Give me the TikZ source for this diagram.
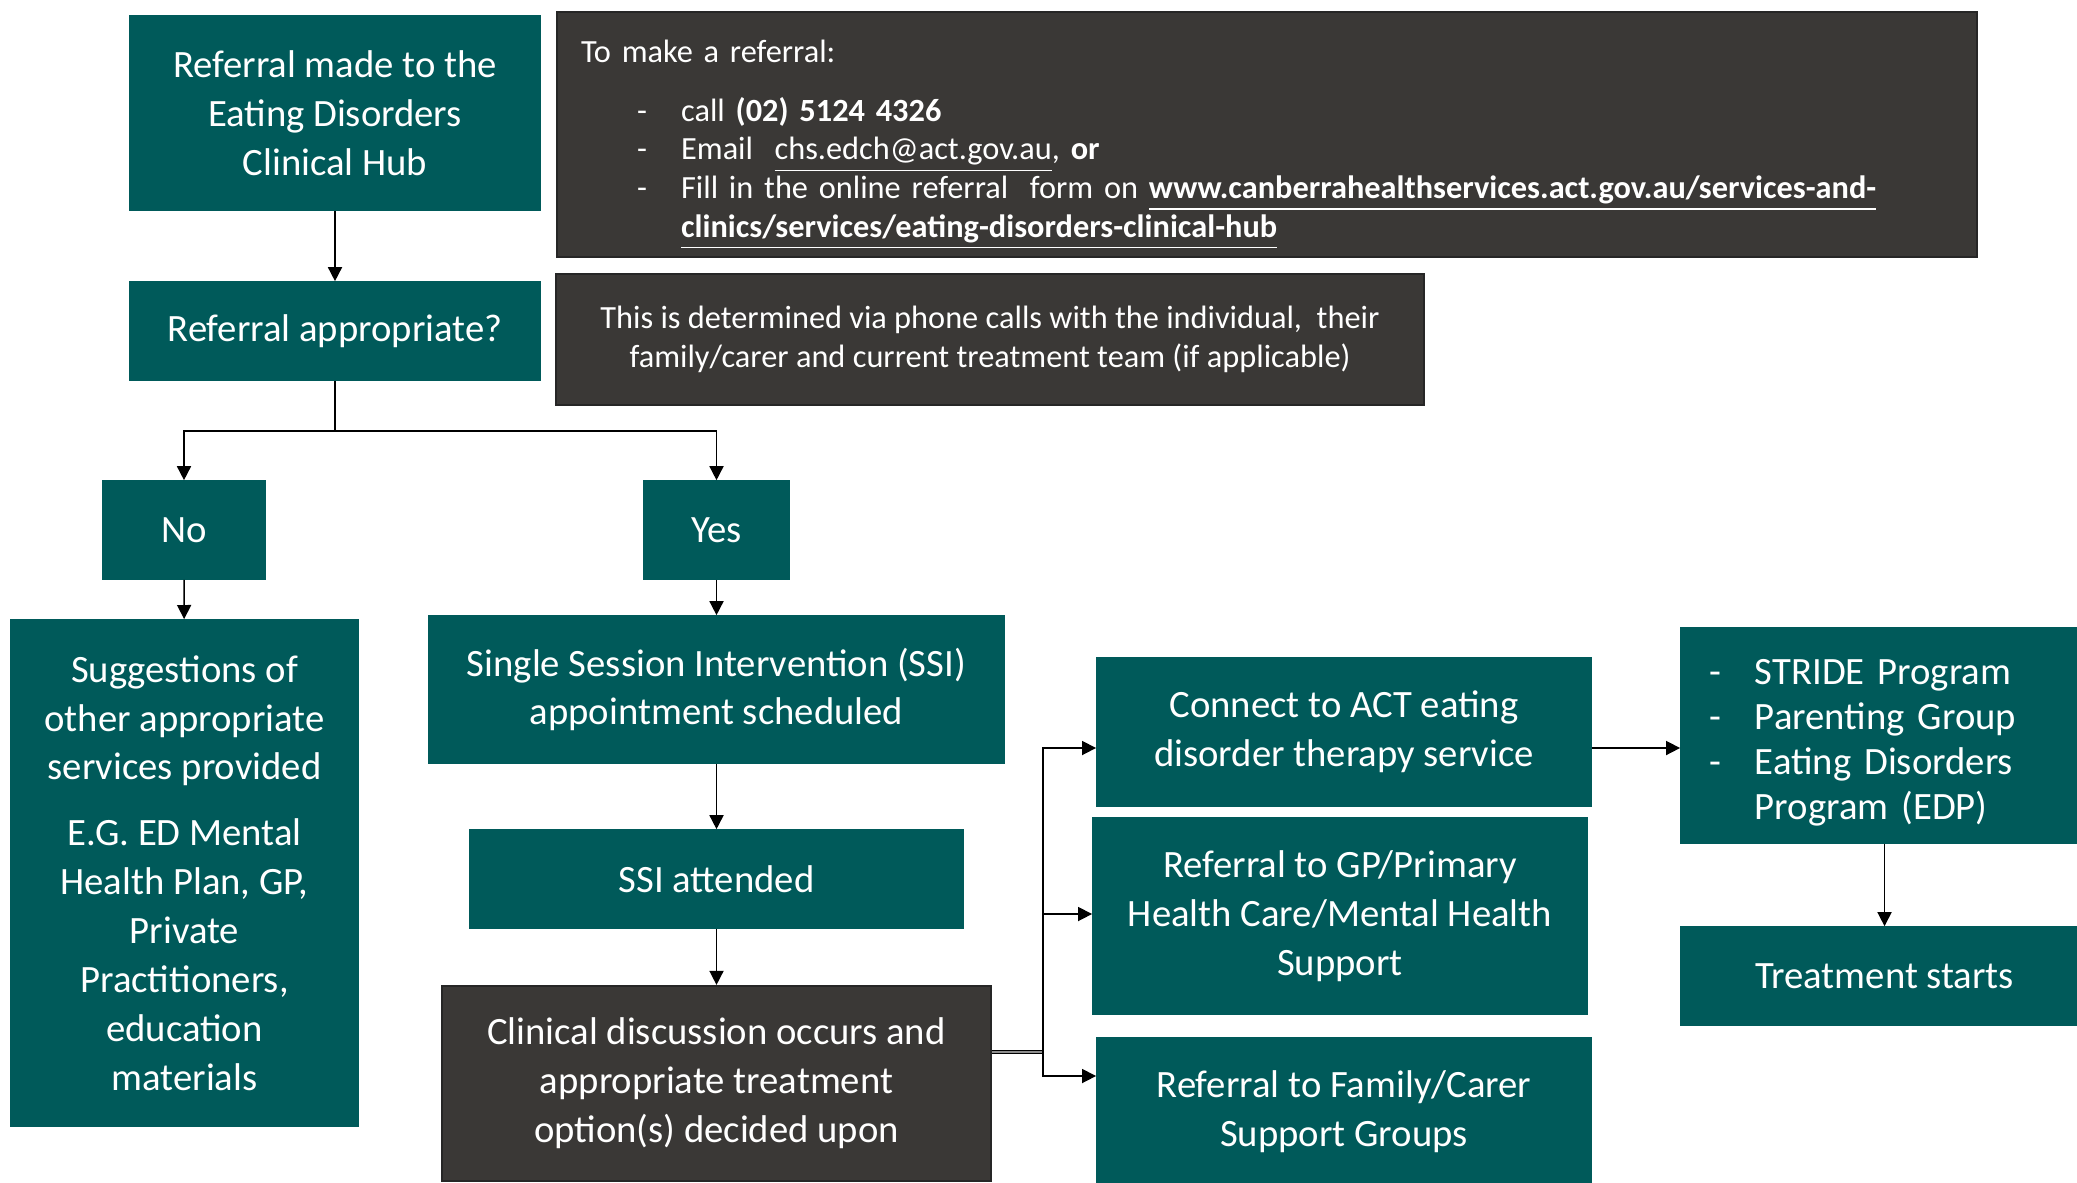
\documentclass[tikz,border=0pt]{standalone}
\usepackage{fontspec}
\setmainfont{Carlito}
\usepackage{xcolor}
\usetikzlibrary{arrows.meta}
\definecolor{hubteal}{HTML}{005A5A}
\definecolor{hubgrey}{HTML}{3A3836}

\begin{document}
\begin{tikzpicture}[x=0.01cm,y=-0.01cm,line width=0.45pt,
    >={Triangle[length=4pt,width=4pt]},
    tealbox/.style={fill=hubteal,draw=hubteal,text=white,align=center,inner sep=0pt,
        font=\fontsize{11pt}{13.9pt}\selectfont},
    greybox/.style={fill=hubgrey,draw=black!85,line width=0.6pt,text=white,inner sep=0pt},
    small/.style={font=\fontsize{9.2pt}{11pt}\selectfont}]
    \useasboundingbox (0,0) rectangle (2077,1182);
    \clip (0,0) rectangle (2077,1182);
    % left column
    \node[tealbox,minimum width=4.1cm,minimum height=1.95cm] (1) at (335,113) {Referral made to the\\Eating Disorders\\Clinical Hub};
    \node[greybox,small,anchor=north west,minimum width=14.19cm,minimum height=2.45cm,
        text width=13.71cm,inner xsep=0.24cm,align=left] (2) at (556,11)
        {\rule{0pt}{0.43cm}To make a referral:\\[0.2cm]
        \hspace*{0.56cm}\makebox[0.44cm][l]{-}call \textbf{(02) 5124 4326}\\
        \hspace*{0.56cm}\makebox[0.44cm][l]{-}Email\ \ \underline{chs.edch@act.gov.au}, \textbf{or}\\
        \hspace*{0.56cm}\makebox[0.44cm][l]{-}Fill in the online referral\ \ form on \underline{\textbf{www.canberrahealthservices.act.gov.au/services-and-}}\\
        \hspace*{1cm}\underline{\textbf{clinics/services/eating-disorders-clinical-hub}}};
    \node[tealbox,minimum width=4.1cm,minimum height=0.98cm] (3) at (335,331) {Referral appropriate?};
    \node[greybox,small,align=center,minimum width=8.68cm,minimum height=1.31cm] (4) at (990,339.5)
        {This is determined via phone calls with the individual,\ \ their\\family/carer and current treatment team (if applicable)};
    \node[tealbox,minimum width=1.62cm,minimum height=0.98cm] (5) at (184,530) {No};
    \node[tealbox,minimum width=1.45cm,minimum height=0.98cm] (6) at (716.5,530) {Yes};
    \node[tealbox,minimum width=3.47cm,minimum height=5.06cm] (7) at (184.5,873)
        {Suggestions of\\other appropriate\\services provided\\[0.17cm]E.G. ED Mental\\Health Plan, GP,\\Private\\Practitioners,\\education\\materials};
    % middle column
    \node[tealbox,minimum width=5.75cm,minimum height=1.47cm] (8) at (716.5,689.5) {Single Session Intervention (SSI)\\appointment scheduled};
    \node[tealbox,minimum width=4.93cm,minimum height=0.98cm] (9) at (716.5,879) {SSI attended};
    \node[greybox,align=center,font=\fontsize{11pt}{13.9pt}\selectfont,minimum width=5.49cm,minimum height=1.95cm] (10) at (716.5,1083.5)
        {Clinical discussion occurs and\\appropriate treatment\\option(s) decided upon};
    % options
    \node[tealbox,minimum width=4.94cm,minimum height=1.48cm] (11) at (1344,732) {Connect to ACT eating\\disorder therapy service};
    \node[tealbox,minimum width=4.94cm,minimum height=1.96cm] (12) at (1340,916) {Referral to GP/Primary\\Health Care/Mental Health\\Support};
    \node[tealbox,minimum width=4.94cm,minimum height=1.47cm] (13) at (1344,1111.5) {Referral to Family/Carer\\Support Groups};
    \node[tealbox,minimum width=4.07cm,minimum height=2.15cm,text width=3.49cm,inner xsep=0.29cm,align=left,
        font=\fontsize{11pt}{12.8pt}\selectfont] (14) at (1884.5,735.5)
        {\rule{0pt}{0.4cm}\makebox[0.45cm][l]{-}STRIDE Program\\\makebox[0.45cm][l]{-}Parenting Group\\\makebox[0.45cm][l]{-}Eating Disorders\\\hspace*{0.45cm}Program (EDP)};
    \node[tealbox,minimum width=4.07cm,minimum height=0.98cm] (15) at (1884.5,976) {Treatment starts};
    % connectors
    \coordinate (split) at (335,431);
    \coordinate (trunk) at (1043,1052);
    \draw[->] (1) -- (3);
    \draw (3) -- (split);
    \draw[->] (split) -| (5);
    \draw[->] (split) -| (6);
    \draw[->] (5) -- (7);
    \draw[->] (6) -- (8);
    \draw[->] (8) -- (9);
    \draw[->] (9) -- (10);
    \draw[double=black!45,double distance=0.5pt] (10.east |- trunk) -- (trunk);
    \draw[->] (trunk) |- (11.west |- 0,748);
    \draw[->] (trunk) |- (12.west |- 0,914);
    \draw[->] (trunk) |- (13.west |- 0,1076);
    \draw[->] (11.east |- 0,748) -- (14.west |- 0,748);
    \draw[->] (14) -- (15);
\end{tikzpicture}
\end{document}
